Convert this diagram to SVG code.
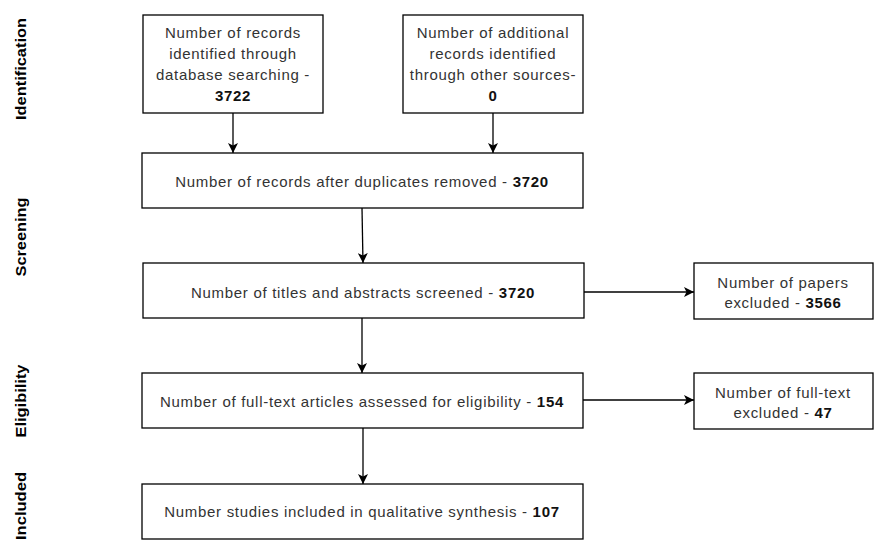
<svg xmlns="http://www.w3.org/2000/svg" width="874" height="541" viewBox="0 0 874 541">
<style>
.box{fill:#fff;stroke:#000;stroke-width:1.3}
.t{font-family:"Liberation Sans",Arial,sans-serif;font-size:15px;letter-spacing:0.7px;fill:#333;text-anchor:middle}
.b{font-weight:bold;fill:#111}
.side{font-family:"Liberation Sans",Arial,sans-serif;font-size:14px;font-weight:bold;fill:#000;text-anchor:middle}
.c{stroke:#000;stroke-width:1.3;fill:none;marker-end:url(#ah)}
</style>
<defs>
<marker id="ah" viewBox="0 0 10 10" refX="10" refY="5" markerWidth="10" markerHeight="10" markerUnits="userSpaceOnUse" orient="auto">
<path d="M0,0 L10,5 L0,10 L2.5,5 z" fill="#000"/>
</marker>
</defs>
<rect width="874" height="541" fill="#fff"/>
<g id="labels">
<text class="side" transform="translate(26,69) rotate(-90)" textLength="102" lengthAdjust="spacingAndGlyphs">Identification</text>
<text class="side" transform="translate(26,237) rotate(-90)" textLength="79" lengthAdjust="spacingAndGlyphs">Screening</text>
<text class="side" transform="translate(26,401) rotate(-90)" textLength="73" lengthAdjust="spacingAndGlyphs">Eligibility</text>
<text class="side" transform="translate(26,540) rotate(-90)" style="text-anchor:start" textLength="68" lengthAdjust="spacingAndGlyphs">Included</text>
</g>
<g id="connectors">
<line class="c" x1="233" y1="113" x2="233" y2="153"/>
<line class="c" x1="493" y1="113" x2="493" y2="153"/>
<line class="c" x1="362" y1="208" x2="363" y2="263"/>
<line class="c" x1="584" y1="292" x2="694" y2="292"/>
<line class="c" x1="362" y1="318" x2="362" y2="373"/>
<line class="c" x1="583" y1="400" x2="694" y2="400"/>
<line class="c" x1="363" y1="428" x2="363" y2="484"/>
</g>
<g id="n1">
<rect class="box" x="143" y="15" width="180" height="98"/>
<text class="t" x="233" y="38">Number of records</text>
<text class="t" x="233" y="59">identified through</text>
<text class="t" x="233" y="80">database searching -</text>
<text class="t b" x="233" y="101">3722</text>
</g>
<g id="n2">
<rect class="box" x="403" y="15" width="180" height="98"/>
<text class="t" x="493" y="38">Number of additional</text>
<text class="t" x="493" y="59">records identified</text>
<text class="t" x="493" y="80">through other sources-</text>
<text class="t b" x="493" y="101">0</text>
</g>
<g id="n3">
<rect class="box" x="142" y="153" width="441" height="55"/>
<text class="t" x="362" y="187">Number of records after duplicates removed - <tspan class="b">3720</tspan></text>
</g>
<g id="n4">
<rect class="box" x="143" y="263" width="441" height="55"/>
<text class="t" x="363" y="298">Number of titles and abstracts screened - <tspan class="b">3720</tspan></text>
</g>
<g id="n5">
<rect class="box" x="694" y="263" width="179" height="56"/>
<text class="t" x="783" y="288">Number of papers</text>
<text class="t" x="783" y="308">excluded - <tspan class="b">3566</tspan></text>
</g>
<g id="n6">
<rect class="box" x="142" y="373" width="441" height="55"/>
<text class="t" x="362" y="407">Number of full-text articles assessed for eligibility - <tspan class="b">154</tspan></text>
</g>
<g id="n7">
<rect class="box" x="694" y="373" width="179" height="56"/>
<text class="t" x="783" y="398">Number of full-text</text>
<text class="t" x="783" y="418">excluded - <tspan class="b">47</tspan></text>
</g>
<g id="n8">
<rect class="box" x="142" y="484" width="441" height="55"/>
<text class="t" x="362" y="517">Number studies included in qualitative synthesis - <tspan class="b">107</tspan></text>
</g>
</svg>
